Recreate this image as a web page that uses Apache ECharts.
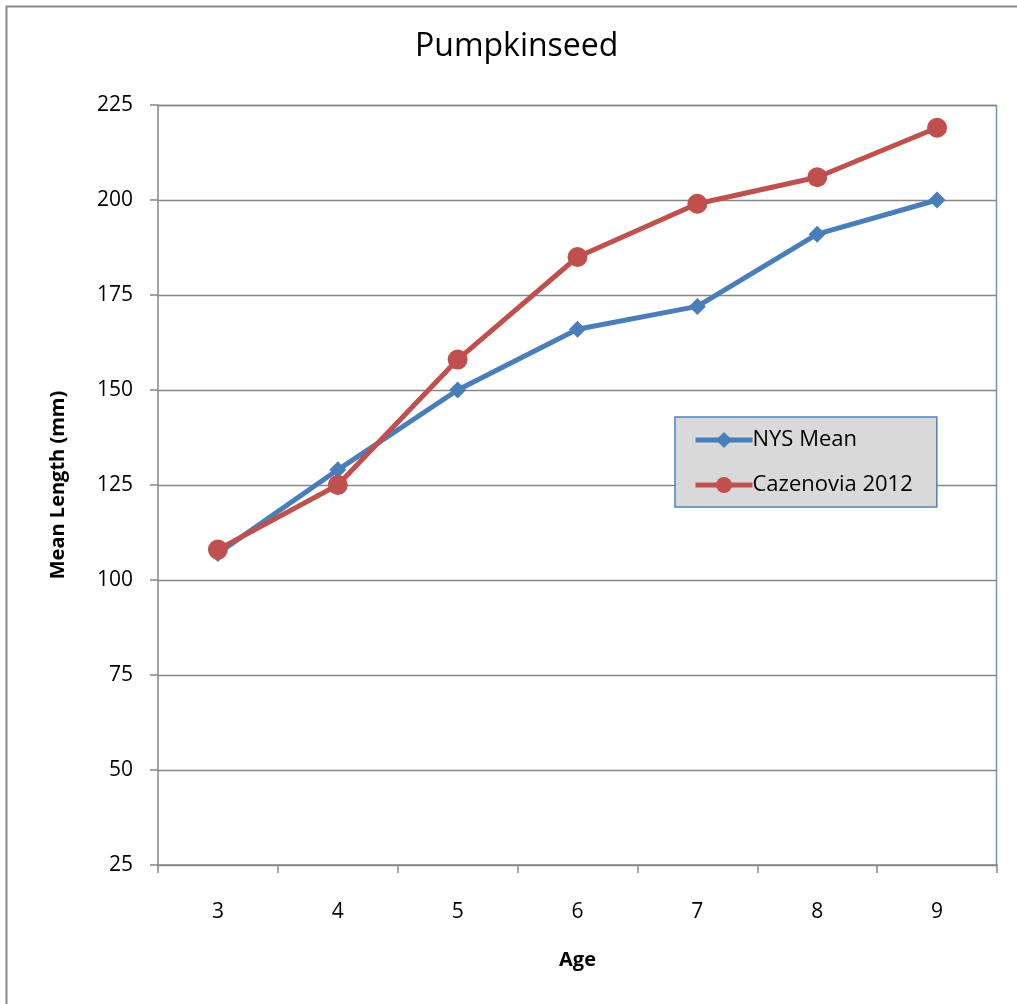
<!DOCTYPE html>
<html>
<head>
<meta charset="utf-8">
<script src="https://cdn.jsdelivr.net/npm/echarts@6/dist/echarts.min.js"></script>
<style>
  html, body { margin: 0; padding: 0; background: #ffffff; }
  #chart { width: 1017px; height: 1004px; }
</style>
</head>
<body>
<div id="chart"></div>
<script>
// Pumpkinseed mean length at age
const ages = ['3', '4', '5', '6', '7', '8', '9'];
const nysMean = [107, 129, 150, 166, 172, 191, 200];
const cazenovia2012 = [108, 125, 158, 185, 199, 206, 219];
const yTicks = { min: 25, max: 225, interval: 25 };

const FONT = '"Open Sans", Lato, sans-serif';
const AXIS_GRAY = '#868686';
const BLUE = '#4a7ebb';
const RED = '#c0504d';

const chart = echarts.init(document.getElementById('chart'), null, { renderer: 'canvas' });

chart.setOption({
  backgroundColor: '#ffffff',
  animation: false,
  graphic: [{
    type: 'rect',
    shape: { x: 6.5, y: 6.5, width: 1100, height: 1100 },
    style: { fill: 'none', stroke: '#8c8c8c', lineWidth: 2 },
    silent: true,
    z: -1
  }, {
    // plot area frame (top and right edges)
    type: 'polyline',
    shape: { points: [[158, 105.5], [996.5, 105.5], [996.5, 865]] },
    style: { stroke: '#6f97cc', lineWidth: 1.5, fill: 'none' },
    silent: true,
    z: 0
  }],
  title: {
    text: 'Pumpkinseed',
    left: 415,
    top: 31,
    padding: 0,
    textStyle: { fontFamily: FONT, fontSize: 32, fontWeight: 'normal', color: '#000' }
  },
  grid: { left: 158, top: 105, right: 20, bottom: 139, containLabel: false },
  legend: {
    orient: 'vertical',
    left: 675,
    top: 417,
    padding: [10, 24, 9, 18],
    itemGap: 19,
    itemWidth: 57,
    itemHeight: 20,
    backgroundColor: '#d9d9d9',
    borderColor: '#4f81bd',
    borderWidth: 1.5,
    borderRadius: 0,
    lineStyle: { width: 5 },
    textStyle: { fontFamily: FONT, fontSize: 22, color: '#000', padding: [0, 0, 0, -5], lineHeight: 26 },
    data: ['NYS Mean', 'Cazenovia 2012']
  },
  xAxis: {
    type: 'category',
    data: ages,
    boundaryGap: true,
    name: 'Age',
    nameLocation: 'middle',
    nameGap: 85,
    nameTextStyle: { fontFamily: FONT, fontSize: 20, fontWeight: 'bold', color: '#000' },
    axisLine: { lineStyle: { color: AXIS_GRAY, width: 1.5 } },
    axisTick: { show: true, alignWithLabel: false, length: 8, lineStyle: { color: AXIS_GRAY, width: 1.5 } },
    axisLabel: { fontFamily: FONT, fontSize: 21, color: '#000', margin: 37 },
    splitLine: { show: false }
  },
  yAxis: {
    type: 'value',
    min: yTicks.min,
    max: yTicks.max,
    interval: yTicks.interval,
    name: 'Mean Length (mm)',
    nameLocation: 'middle',
    nameGap: 90,
    nameRotate: 90,
    nameTextStyle: { fontFamily: FONT, fontSize: 20, fontWeight: 'bold', color: '#000' },
    axisLine: { show: true, lineStyle: { color: AXIS_GRAY, width: 1.5 } },
    axisTick: { show: true, inside: false, length: 8, lineStyle: { color: AXIS_GRAY, width: 1.5 } },
    axisLabel: { fontFamily: FONT, fontSize: 21, color: '#000', margin: 25 },
    splitLine: { show: true, lineStyle: { color: AXIS_GRAY, width: 1.3 } }
  },
  series: [{
    name: 'NYS Mean',
    type: 'line',
    data: nysMean,
    symbol: 'diamond',
    symbolSize: 17,
    color: BLUE,
    lineStyle: { width: 5, color: BLUE },
    itemStyle: { color: BLUE },
    z: 2
  }, {
    name: 'Cazenovia 2012',
    type: 'line',
    data: cazenovia2012,
    symbol: 'circle',
    symbolSize: 20,
    color: RED,
    lineStyle: { width: 5, color: RED },
    itemStyle: { color: RED },
    z: 3
  }]
});
</script>
</body>
</html>
